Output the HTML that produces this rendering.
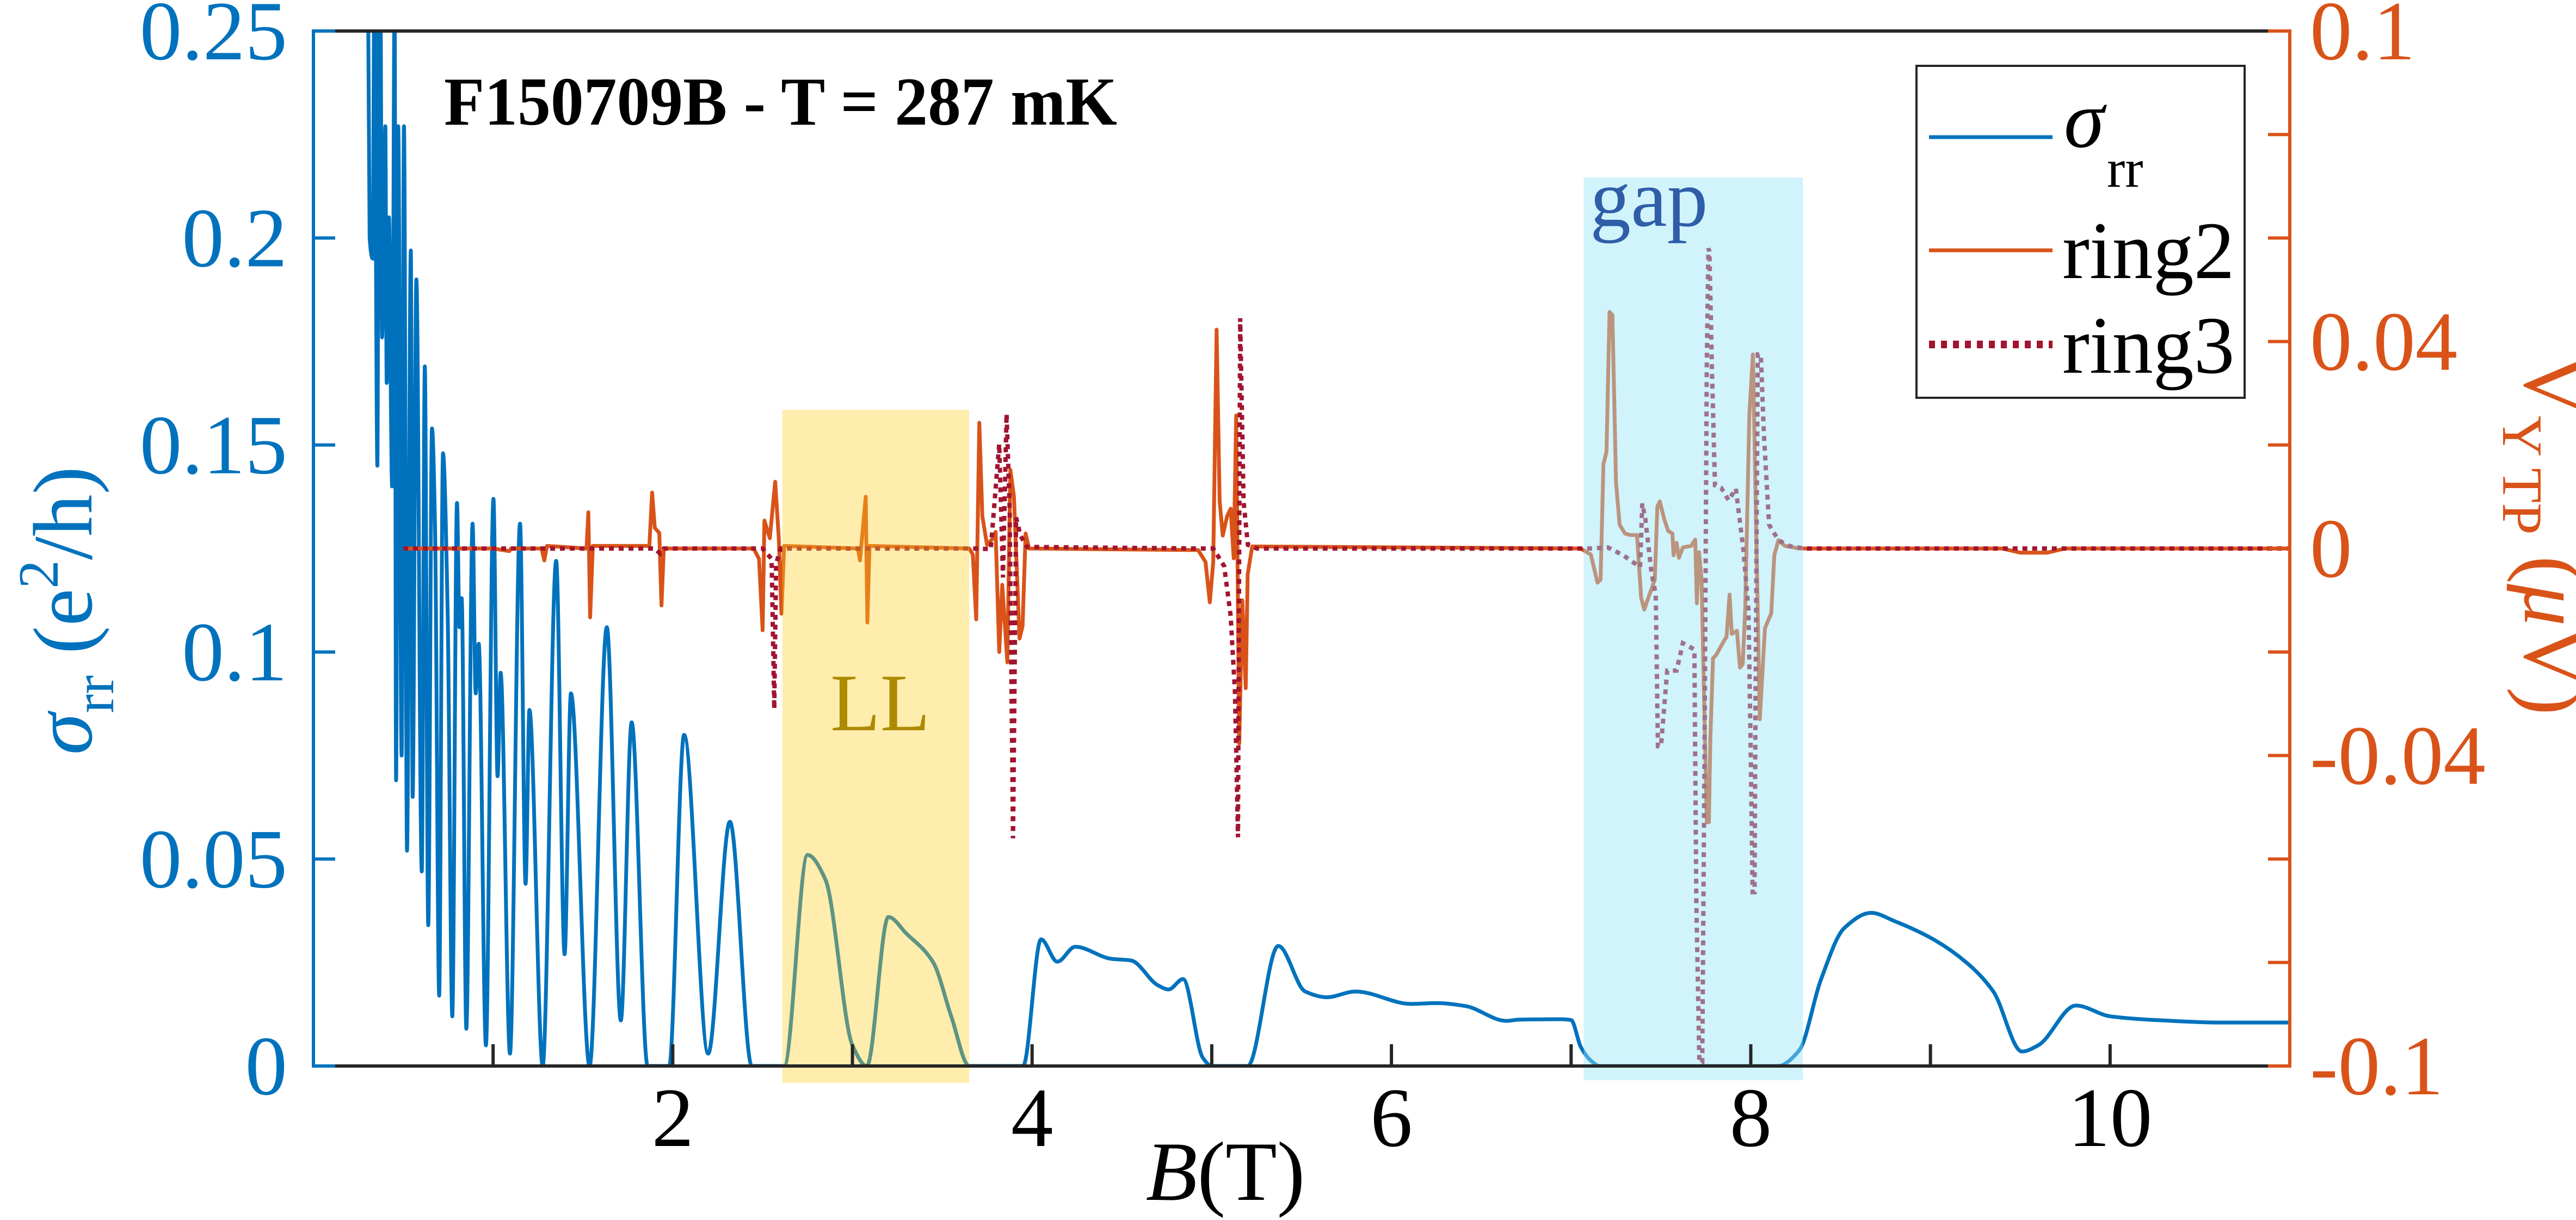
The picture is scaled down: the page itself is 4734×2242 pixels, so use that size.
<!DOCTYPE html>
<html><head><meta charset="utf-8"><style>
html,body{margin:0;padding:0;background:#fff;}
svg{display:block;}
text{font-family:"Liberation Serif",serif;}
</style></head><body>
<svg id="chart" width="4734" height="2242" viewBox="0 0 4734 2242" xmlns="http://www.w3.org/2000/svg">
<defs><clipPath id="plotclip"><rect x="576" y="57" width="3632" height="1902"/></clipPath></defs>
<rect x="0" y="0" width="4734" height="2242" fill="#fff"/>
<g id="lines" clip-path="url(#plotclip)"></g>
<g id="patches"></g>
<g id="axes"></g>
<text x="816" y="229" font-size="126" font-weight="bold" textLength="1237" lengthAdjust="spacingAndGlyphs" fill="#000">F150709B - T = 287 mK</text>
<text x="1526" y="1342" font-size="150" fill="#AD8A00">LL</text>
<text x="2922" y="415" font-size="150" fill="#2E5EA8">gap</text>
<text transform="translate(168,1122) rotate(-90)" text-anchor="middle" font-size="155" fill="#0072BD"><tspan font-style="italic">σ</tspan><tspan font-size="105" dy="40">rr</tspan><tspan dy="-40"> (e</tspan><tspan font-size="105" dy="-62">2</tspan><tspan dy="62">/h)</tspan></text>
<text transform="translate(4640,983) rotate(90)" text-anchor="middle" font-size="155" fill="#D95319"><tspan>V</tspan><tspan font-size="105" dy="40">Y TP</tspan><tspan dy="-40"> (</tspan><tspan font-style="italic">μ</tspan><tspan>V)</tspan></text>
<text x="2252" y="2205" text-anchor="middle" font-size="155" fill="#000"><tspan font-style="italic">B</tspan>(T)</text>
<g>
<rect x="3522" y="121" width="603" height="610" fill="#fff" stroke="#262626" stroke-width="4"/>
<line x1="3545" y1="252" x2="3772" y2="252" stroke="#0072BD" stroke-width="7"/>
<text x="3793" y="270" font-size="150" font-style="italic" fill="#000">σ</text>
<text x="3872" y="343" font-size="100" fill="#000">rr</text>
<line x1="3545" y1="460" x2="3772" y2="460" stroke="#D95319" stroke-width="7"/>
<text x="3790" y="511" font-size="150" fill="#000">ring2</text>
<line x1="3545" y1="633" x2="3772" y2="633" stroke="#A2142F" stroke-width="14" stroke-dasharray="11 11"/>
<text x="3790" y="685" font-size="150" fill="#000">ring3</text>
</g>
</svg>
<script>
const sigB=[0.30,0.304,0.313,0.33,0.339,0.356,0.365,0.373,0.382,0.40,0.408,0.42,0.438,0.452,0.46,0.472,0.491,0.504,0.521,0.542,0.552,0.573,0.603,0.62,0.639,0.66,0.677,0.70,0.721,0.747,0.773,0.799,0.813,0.825,0.851,0.886,0.903,0.92,0.96,1.002,1.025,1.042,1.094,1.15,1.181,1.202,1.276,1.351,1.398,1.433,1.537,1.633,1.711,1.771,1.86,1.98,2.063,2.197,2.318,2.44,2.62,2.75,2.85,3.0,3.08,3.2,3.3,3.45,3.55,3.65,3.95,4.05,4.14,4.24,4.44,4.55,4.70,4.76,4.84,4.95,5.0,5.2,5.37,5.52,5.64,5.80,6.11,6.25,6.41,6.64,6.71,6.94,7.0,7.054,7.11,7.16,8.15,8.27,8.39,8.52,8.67,8.8,9.0,9.2,9.35,9.51,9.6,9.81,10.0,10.3,10.6,11.0];
const sigV=[0.27,0.26,0.20,0.195,0.26,0.145,0.26,0.26,0.176,0.227,0.165,0.205,0.14,0.26,0.069,0.227,0.075,0.227,0.052,0.197,0.065,0.19,0.047,0.169,0.034,0.154,0.13,0.017,0.148,0.11,0.012,0.136,0.106,0.113,0.009,0.131,0.09,0.102,0.005,0.137,0.07,0.095,0.003,0.131,0.044,0.086,0.0,0.122,0.027,0.09,0.0,0.106,0.011,0.083,0.0,0.0,0.08,0.003,0.059,0.0,0.0,0.051,0.045,0.005,0.0,0.036,0.032,0.025,0.012,0.0,0.0,0.0306,0.0252,0.0288,0.0259,0.0255,0.0195,0.0185,0.021,0.002,0.0,0.0,0.029,0.018,0.0166,0.018,0.015,0.0152,0.0145,0.0109,0.0112,0.0113,0.0111,0.0046,0.0013,0.0,0.0,0.0038,0.0208,0.0333,0.037,0.035,0.031,0.025,0.018,0.0035,0.005,0.0146,0.012,0.011,0.0105,0.0105];
const r2B=[0.50,1.0,1.09,1.10,1.27,1.285,1.30,1.52,1.53,1.54,1.555,1.87,1.885,1.9,1.925,1.937,1.95,2.45,2.48,2.5,2.51,2.54,2.57,2.59,2.605,2.62,3.03,3.042,3.074,3.083,3.095,3.65,3.67,3.689,3.706,3.723,3.749,3.778,3.797,3.817,3.834,3.862,3.879,3.899,3.916,3.93,3.947,3.964,3.983,4.924,4.965,4.989,5.008,5.027,5.044,5.061,5.085,5.105,5.122,5.136,5.153,5.17,5.189,5.2,5.225,7.054,7.11,7.147,7.164,7.18,7.197,7.214,7.23,7.25,7.27,7.3,7.33,7.367,7.39,7.407,7.425,7.466,7.48,7.494,7.517,7.54,7.564,7.57,7.587,7.6,7.622,7.668,7.691,7.70,7.712,7.726,7.755,7.767,7.775,7.79,7.807,7.853,7.865,7.882,7.894,7.923,7.94,7.955,7.969,7.992,8.012,8.027,8.05,8.079,8.114,8.131,8.154,8.19,8.27,9.4,9.5,9.65,9.75,11.0];
const r2V=[0,0,-0.0005,0,0,-0.0023,0.0005,0,0.007,-0.0133,0.0005,0.0005,0.0108,0.004,0.003,-0.011,0,0,-0.002,-0.0158,0.0054,0.002,0.0129,0.002,-0.0126,0.0005,0,-0.0023,0.010,-0.0143,0.0005,0,-0.0012,-0.0137,0.0243,0.0062,0.0007,0.0018,0.0032,-0.02,-0.007,-0.022,0.0152,0.01,-0.0049,-0.0174,-0.015,0.0029,0,-0.0003,-0.0026,-0.0104,-0.0026,0.0423,0.0091,0.0025,0.0062,0.0077,-0.0019,0.0257,-0.0377,-0.01,-0.027,-0.005,0.0004,0,-0.0012,-0.0066,-0.006,0.0163,0.0187,0.0457,0.0451,0.0128,0.0046,0.0029,0.0026,0.0026,-0.0095,-0.0118,-0.01,-0.006,0.0081,0.0091,0.0058,0.0034,0.0029,-0.0013,0.0011,-0.0018,0.0002,0.0005,0.0017,-0.0106,-0.0007,-0.006,-0.0529,-0.0529,-0.0365,-0.0212,-0.0206,-0.0177,-0.0171,-0.0089,-0.0165,-0.0159,-0.023,-0.0224,-0.0118,0.0257,0.0375,0.0093,-0.033,-0.0154,-0.0125,-0.0013,0.0016,0.0005,0,0,-0.0008,-0.0008,0,0];
const r3B=[0.50,1.9,1.93,1.95,2.5,2.55,2.565,2.575,2.6,3.67,3.77,3.817,3.838,3.858,3.875,3.894,3.911,3.935,3.971,4.95,5.008,5.069,5.105,5.129,5.146,5.158,5.177,5.201,5.25,7.1,7.205,7.29,7.384,7.396,7.413,7.448,7.471,7.483,7.5,7.535,7.587,7.622,7.686,7.697,7.714,7.73,7.743,7.755,7.764,7.77,7.784,7.801,7.836,7.877,7.917,7.958,7.987,7.998,8.01,8.021,8.027,8.039,8.056,8.073,8.102,8.154,8.212,8.3,11.0];
const r3V=[0,0,-0.001,0,0,-0.002,-0.031,-0.003,0,0,-0.0001,0.0202,-0.0056,0.026,0.0077,-0.056,0.006,0.0025,0.0003,0,0,-0.0034,-0.013,-0.0277,-0.0558,0.0445,0.009,0.0007,0,0,0.0002,-0.0013,-0.0036,0.0087,0.0058,-0.0048,-0.0089,-0.0382,-0.0382,-0.0236,-0.0236,-0.0183,-0.0195,-0.0682,-0.0993,-0.0993,-0.0377,0.0351,0.058,0.0574,0.0345,0.0122,0.0117,0.0093,0.0116,0,-0.0118,-0.0353,-0.0664,-0.0664,-0.0259,0.0375,0.0375,0.022,0.0046,0.0016,0.0005,0,0];
const leftTicks=[0,0.05,0.1,0.15,0.2,0.25];
const leftTickLabels=["0","0.05","0.1","0.15","0.2","0.25"];
const rightTicks=[-0.1,-0.08,-0.06,-0.04,-0.02,0,0.02,0.04,0.06,0.08,0.1];
const rightLabelVals=[-0.1,-0.04,0,0.04,0.1];
const rightTickLabels=["-0.1","-0.04","0","0.04","0.1"];
const xTicks=[1,2,3,4,5,6,7,8,9,10];
const xLabelVals=[2,4,6,8,10];
const xTickLabels=["2","4","6","8","10"];
const regionLL=[2.61,3.65,0.1585];
const regionGap=[7.07,8.29,0.2146];

const NS="http://www.w3.org/2000/svg";
const PL=576,PR=4208,PT=57,PB=1959;
const X=b=>PL+(b-0)/(11-0)*(PR-PL);
const YL=v=>PB-(v/0.25)*(PB-PT);
const YR=v=>1008-(v/0.1)*951;
function mk(tag,attrs,parent){const e=document.createElementNS(NS,tag);for(const k in attrs)e.setAttribute(k,attrs[k]);parent.appendChild(e);return e;}
function linPath(bs,vs,ys){let d="";for(let i=0;i<bs.length;i++){d+=(i?"L":"M")+X(bs[i]).toFixed(1)+" "+ys(vs[i]).toFixed(1);}return d;}
function monoPath(bs,vs,ys){
  const n=bs.length,xs=bs.map(X),yv=vs.map(ys);const dl=[],m=new Array(n);
  for(let i=0;i<n-1;i++)dl.push((yv[i+1]-yv[i])/(xs[i+1]-xs[i]));
  m[0]=dl[0];m[n-1]=dl[n-2];
  for(let i=1;i<n-1;i++){if(dl[i-1]*dl[i]<=0)m[i]=0;else{const w1=2*(xs[i+1]-xs[i])+(xs[i]-xs[i-1]),w2=(xs[i+1]-xs[i])+2*(xs[i]-xs[i-1]);m[i]=(w1+w2)/(w1/dl[i-1]+w2/dl[i]);}}
  let d="M"+xs[0].toFixed(1)+" "+yv[0].toFixed(1);
  for(let i=0;i<n-1;i++){const h=(xs[i+1]-xs[i])/3;d+="C"+(xs[i]+h).toFixed(1)+" "+(yv[i]+m[i]*h).toFixed(1)+" "+(xs[i+1]-h).toFixed(1)+" "+(yv[i+1]-m[i+1]*h).toFixed(1)+" "+xs[i+1].toFixed(1)+" "+yv[i+1].toFixed(1);}
  return d;}
const linesG=document.getElementById('lines');
const pS=mk('path',{d:monoPath(sigB,sigV,YL),fill:'none',stroke:'#0072BD','stroke-width':7,'stroke-linejoin':'round'},linesG);


const p2=mk('path',{d:linPath(r2B,r2V,YR),fill:'none',stroke:'#D95319','stroke-width':7,'stroke-linejoin':'round'},linesG);


const p3=mk('path',{d:linPath(r3B,r3V,YR),fill:'none',stroke:'#A2142F','stroke-width':8,'stroke-dasharray':'9 9'},linesG);


const patchesG=document.getElementById('patches');
const llRect=mk('rect',{x:X(regionLL[0]),y:YL(regionLL[2]),width:X(regionLL[1])-X(regionLL[0]),height:1990-YL(regionLL[2]),fill:'rgb(254,206,33)','fill-opacity':0.37},patchesG);


const gapRect=mk('rect',{x:X(regionGap[0]),y:YL(regionGap[2]),width:X(regionGap[1])-X(regionGap[0]),height:1985-YL(regionGap[2]),fill:'rgb(150,228,249)','fill-opacity':0.45},patchesG);


const axG=document.getElementById('axes');
const topAxis=mk('line',{x1:PL,y1:PT,x2:PR,y2:PT,stroke:'#262626','stroke-width':6},axG);


const bottomAxis=mk('line',{x1:PL,y1:PB,x2:PR,y2:PB,stroke:'#262626','stroke-width':6},axG);


const leftAxis=mk('line',{x1:PL,y1:PT-3,x2:PL,y2:PB+3,stroke:'#0072BD','stroke-width':6},axG);


const rightAxis=mk('line',{x1:PR,y1:PT-3,x2:PR,y2:PB+3,stroke:'#D95319','stroke-width':6},axG);


xTicks.forEach(t=>{const e=mk('line',{x1:X(t),y1:PB,x2:X(t),y2:PB-40,stroke:'#262626','stroke-width':6},axG);

});
xLabelVals.forEach((t,i)=>{const e=mk('text',{x:X(t),y:2106,'text-anchor':'middle','font-size':155,fill:'#000'},axG);e.textContent=xTickLabels[i];

});
leftTicks.forEach((t,i)=>{const e=mk('line',{x1:PL,y1:YL(t),x2:PL+40,y2:YL(t),stroke:'#0072BD','stroke-width':6},axG);


const tx=mk('text',{x:528,y:YL(t)+52,'text-anchor':'end','font-size':155,fill:'#0072BD'},axG);tx.textContent=leftTickLabels[i];

});
rightTicks.forEach(t=>{const e=mk('line',{x1:PR,y1:YR(t),x2:PR-40,y2:YR(t),stroke:'#D95319','stroke-width':6},axG);

});
rightLabelVals.forEach((t,i)=>{const tx=mk('text',{x:4245,y:YR(t)+52,'font-size':155,fill:'#D95319'},axG);tx.textContent=rightTickLabels[i];

});
</script>
</body></html>
